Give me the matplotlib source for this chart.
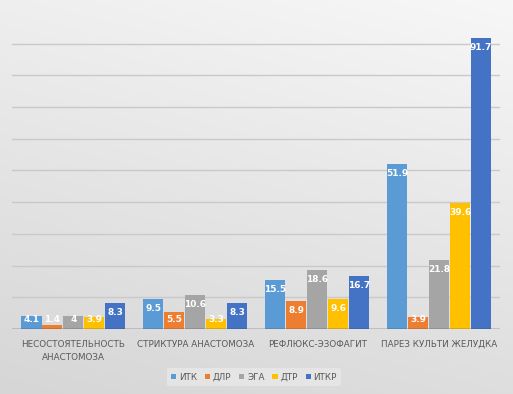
import numpy as np
import matplotlib.pyplot as plt
from matplotlib.colors import LinearSegmentedColormap

# Категории и значения
categories = ["НЕСОСТОЯТЕЛЬНОСТЬ\nАНАСТОМОЗА", "СТРИКТУРА АНАСТОМОЗА",
              "РЕФЛЮКС-ЭЗОФАГИТ", "ПАРЕЗ КУЛЬТИ ЖЕЛУДКА"]
series_names = ["ИТК", "ДЛР", "ЭГА", "ДТР", "ИТКР"]
itk = [4.1, 9.5, 15.5, 51.9]
dlr = [1.4, 5.5, 8.9, 3.9]
ega = [4, 10.6, 18.6, 21.8]
dtr = [3.9, 3.3, 9.6, 39.6]
itkr = [8.3, 8.3, 16.7, 91.7]
colors = ["#5B9BD5", "#ED7D31", "#A5A5A5", "#FFC000", "#4472C4"]

fig = plt.figure(figsize=(5.13, 3.94), dpi=100)

# фон с градиентом
bg = fig.add_axes([0, 0, 1, 1], zorder=0)
xx, yy = np.meshgrid(np.linspace(0, 1, 200), np.linspace(0, 1, 200))
grad = 0.75 * yy + 0.25 * xx
cmap = LinearSegmentedColormap.from_list("bg", ["#d6d6d6", "#e6e6e6", "#f7f7f7"])
bg.imshow(grad, cmap=cmap, origin="lower", aspect="auto", extent=[0, 1, 0, 1])
bg.axis("off")

ax = fig.add_axes([0.024, 0.165, 0.951, 0.805], zorder=1)
ax.patch.set_alpha(0)

data = [itk, dlr, ega, dtr, itkr]
x = np.arange(len(categories))
w = 0.172
for i, (name, vals, c) in enumerate(zip(series_names, data, colors)):
    pos = x + (i - 2) * w
    ax.bar(pos, vals, width=w * 0.97, color=c, label=name, zorder=3)
    for px, v in zip(pos, vals):
        ax.text(px, max(v - 3.0, 2.9), f"{v:g}", ha="center", va="center",
                color="white", fontsize=6.5, fontweight="bold", zorder=4)

ax.set_xlim(-0.5, 3.5)
ax.set_ylim(0, 100)
for g in range(10, 100, 10):
    ax.axhline(g, color="#c9c9c9", lw=1.0, zorder=1)
ax.axhline(0, color="#404040", lw=1, zorder=5)

ax.set_yticks([])
ax.set_xticks(x)
ax.set_xticklabels(categories, fontsize=6.3, color="#595959", linespacing=1.6)
ax.tick_params(axis="x", length=0, pad=8)
for s in ax.spines.values():
    s.set_visible(False)

leg = fig.legend(loc="center", bbox_to_anchor=(0.495, 0.043), ncol=5,
                 fontsize=6.3, frameon=True, handlelength=0.6, handleheight=0.6,
                 handletextpad=0.3, columnspacing=0.9, borderpad=0.5)
leg.get_frame().set_facecolor("#e8e8e8")
leg.get_frame().set_edgecolor("none")
for t in leg.get_texts():
    t.set_color("#595959")

fig.savefig("out.png", dpi=100)
